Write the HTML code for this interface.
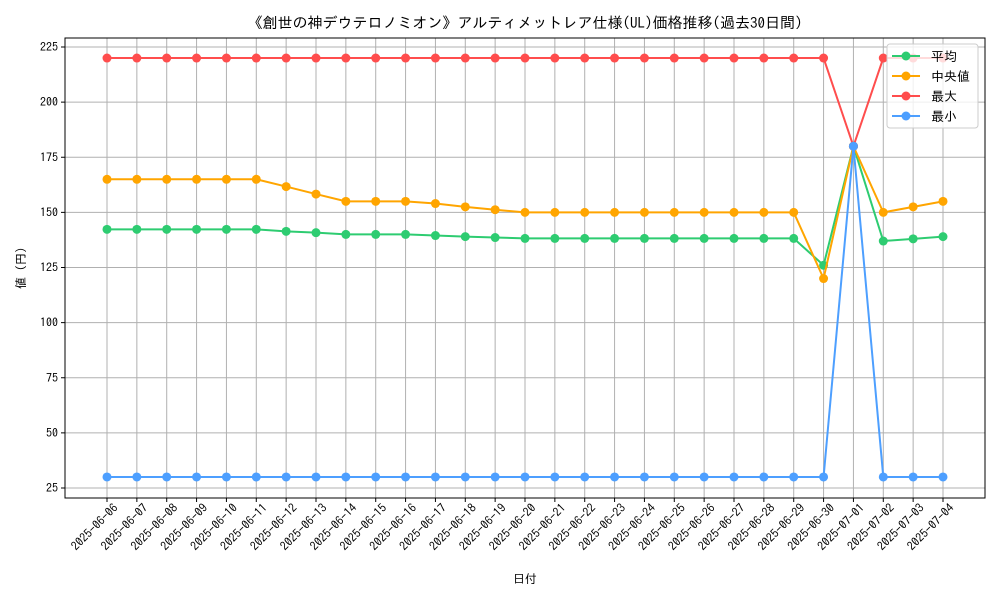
<!DOCTYPE html>
<html><head><meta charset="utf-8"><style>
body{margin:0;background:#fff;font-family:"IPAGothic","Liberation Sans","Noto Sans CJK JP",sans-serif}
</style></head><body>
<svg width="1000" height="600" xmlns="http://www.w3.org/2000/svg" font-family="IPAGothic, Liberation Sans, Noto Sans CJK JP, sans-serif">
<rect width="1000" height="600" fill="#fff"/>
<text x="525" y="28" text-anchor="middle" font-size="15">《創世の神デウテロノミオン》アルティメットレア仕様(UL)価格推移(過去30日間)</text>
<g id="grid"></g><g id="series"></g><g id="axes"></g>
<text x="525" y="583" text-anchor="middle" font-size="12">日付</text>
<text transform="translate(25,268) rotate(-90)" text-anchor="middle" font-size="12">値 (円)</text>
<g>
<rect x="887" y="44" width="91" height="84" fill="#fff" fill-opacity="0.8" stroke="#ccc" rx="3"/>
<g id="legend"></g>
</g>
</svg>
<script>
const dates=["2025-06-06","2025-06-07","2025-06-08","2025-06-09","2025-06-10","2025-06-11","2025-06-12","2025-06-13","2025-06-14","2025-06-15","2025-06-16","2025-06-17","2025-06-18","2025-06-19","2025-06-20","2025-06-21","2025-06-22","2025-06-23","2025-06-24","2025-06-25","2025-06-26","2025-06-27","2025-06-28","2025-06-29","2025-06-30","2025-07-01","2025-07-02","2025-07-03","2025-07-04"];
const meanVals=[142.3,142.3,142.3,142.3,142.3,142.3,141.4,140.8,140,140,140,139.5,139,138.6,138.2,138.2,138.2,138.2,138.2,138.2,138.2,138.2,138.2,138.2,126,180,137,138,139];
const medianVals=[165,165,165,165,165,165,161.7,158.3,155,155,155,154,152.5,151.2,150,150,150,150,150,150,150,150,150,150,120,180,150,152.5,155];
const maxVals=[220,220,220,220,220,220,220,220,220,220,220,220,220,220,220,220,220,220,220,220,220,220,220,220,220,180,220,220,220];
const minVals=[30,30,30,30,30,30,30,30,30,30,30,30,30,30,30,30,30,30,30,30,30,30,30,30,30,180,30,30,30];
const yTicks=[25,50,75,100,125,150,175,200,225];
const seriesNames=["平均","中央値","最大","最小"];
const colors=["#2ecc71","#ffa500","#ff4d4d","#4d9fff"];
const NS="http://www.w3.org/2000/svg";
const L=65,R=985,T=38,B=498;
const xs=i=>107+i*(943-107)/(dates.length-1);
const ys=v=>488-(v-25)*(441/200);
function mk(tag,attrs,parent){const e=document.createElementNS(NS,tag);for(const k in attrs)e.setAttribute(k,attrs[k]);parent.appendChild(e);return e;}
const grid=document.getElementById('grid'),axes=document.getElementById('axes'),ser=document.getElementById('series');
dates.forEach((d,i)=>{
 const g=mk('line',{x1:xs(i),x2:xs(i),y1:T,y2:B,stroke:'#b0b0b0','stroke-width':1},grid);
 
 mk('line',{x1:xs(i),x2:xs(i),y1:B,y2:B+4,stroke:'#000'},axes);
 const t=mk('text',{transform:`translate(${xs(i)+6},${B+5}) rotate(-45)`,'text-anchor':'end','font-size':12,'dominant-baseline':'hanging'},axes);
 t.textContent=d;
 
});
yTicks.forEach(v=>{
 const g=mk('line',{x1:L,x2:R,y1:ys(v),y2:ys(v),stroke:'#b0b0b0','stroke-width':1},grid);
 
 mk('line',{x1:L-4,x2:L,y1:ys(v),y2:ys(v),stroke:'#000'},axes);
 const t=mk('text',{x:L-7,y:ys(v)+4,'text-anchor':'end','font-size':12},axes);
 t.textContent=v;
 
});
const fr=mk('rect',{x:L,y:T,width:R-L,height:B-T,fill:'none',stroke:'#000'},axes);

[meanVals,medianVals,maxVals,minVals].forEach((vals,s)=>{
 const g=mk('g',{},ser);
 
 mk('polyline',{points:vals.map((v,i)=>xs(i)+','+ys(v)).join(' '),fill:'none',stroke:colors[s],'stroke-width':2},g);
 vals.forEach((v,i)=>{const c=mk('circle',{cx:xs(i),cy:ys(v),r:4.5,fill:colors[s]},g);
  });
});
const lg=document.getElementById('legend');
seriesNames.forEach((n,s)=>{
 const y=56+s*20;
 const g=mk('g',{},lg);
 
 mk('line',{x1:892,x2:920,y1:y,y2:y,stroke:colors[s],'stroke-width':2},g);
 mk('circle',{cx:906,cy:y,r:4.5,fill:colors[s]},g);
 const t=mk('text',{x:931,y:y+5,'font-size':13},g);t.textContent=(s==1?' ':'')+n;
});
</script>
</body></html>
